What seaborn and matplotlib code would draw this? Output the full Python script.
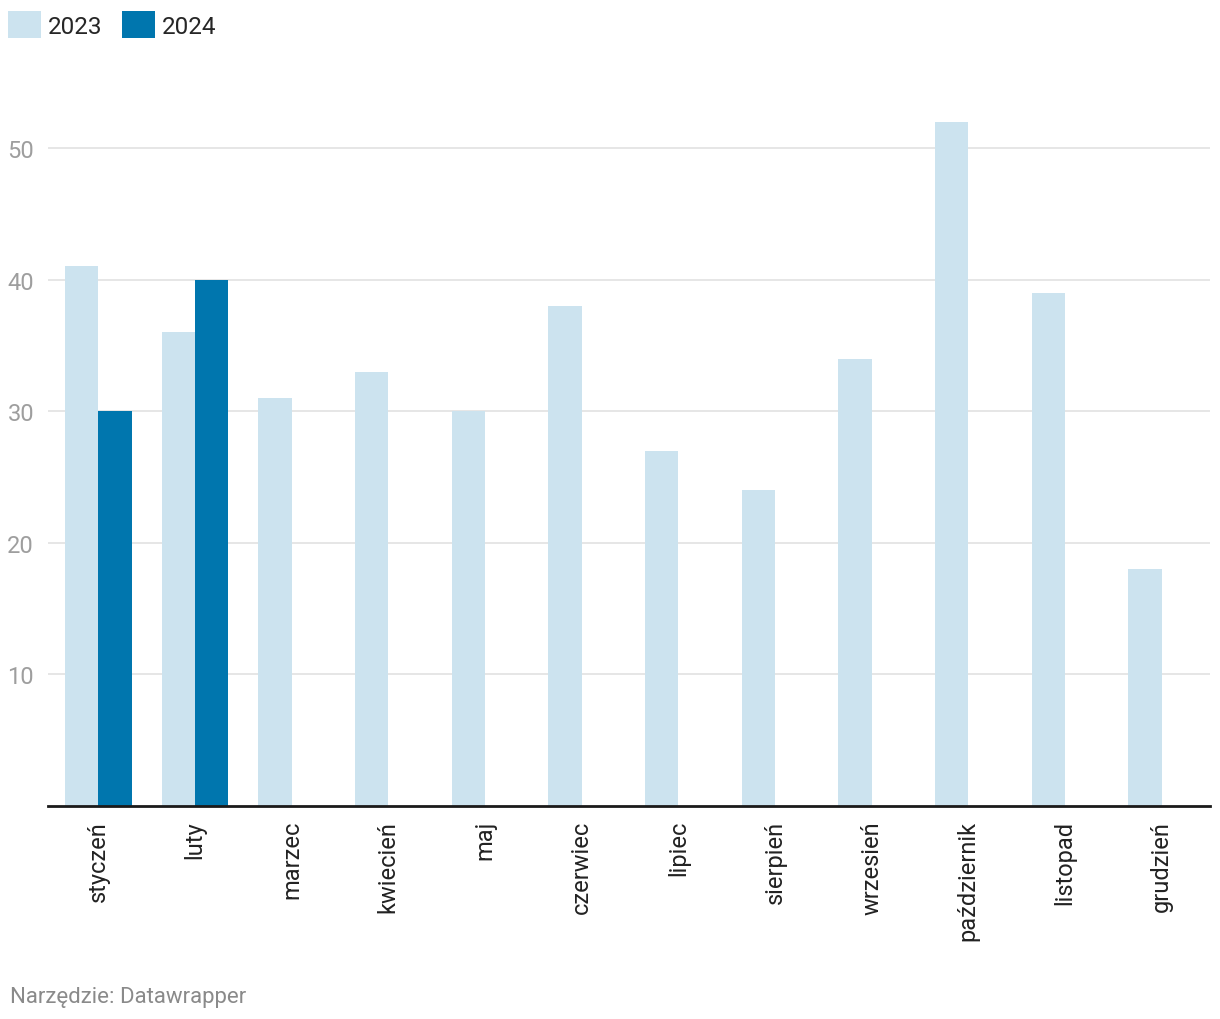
import pandas as pd
import numpy as np
import matplotlib
matplotlib.use('Agg')
import matplotlib.pyplot as plt
import seaborn as sns

# Data
months = ['styczeń', 'luty', 'marzec', 'kwiecień', 'maj', 'czerwiec',
          'lipiec', 'sierpień', 'wrzesień', 'październik', 'listopad', 'grudzień']
values_2023 = [41, 36, 31, 33, 30, 38, 27, 24, 34, 52, 39, 18]
values_2024 = [30, 40]
years = ['2023', '2024']
colors = ['#cce3ef', '#0076ae']
yticks = [10, 20, 30, 40, 50]

rows = [{'month': m, 'year': '2023', 'value': v} for m, v in zip(months, values_2023)]
rows += [{'month': m, 'year': '2024', 'value': v} for m, v in zip(months, values_2024)]
df = pd.DataFrame(rows)

sns.set_theme(style='white')
plt.rcParams['font.family'] = ['Roboto', 'DejaVu Sans']

fig = plt.figure(figsize=(12.2, 10.2), dpi=100)
ax = fig.add_axes([0.0393, 0.2088, 0.9525, 0.7096])

sns.barplot(data=df, x='month', y='value', hue='year', order=months, hue_order=years,
            palette=colors, width=0.69, gap=0, saturation=1, errorbar=None,
            linewidth=0, edgecolor='none', ax=ax)

ax.set_xlim(-0.52, 11.5)
ax.set_ylim(0, 55)
ax.set_yticks(yticks)
ax.set_yticklabels([str(t) for t in yticks], fontsize=17, color='#9e9e9e')
ax.yaxis.grid(True, color='#e2e2e2', linewidth=1.2)
ax.set_axisbelow(True)
ax.tick_params(axis='y', length=0, pad=10)
ax.tick_params(axis='x', length=0, pad=10)
for lbl in ax.get_xticklabels():
    lbl.set_rotation(90)
    lbl.set_fontsize(17)
    lbl.set_color('#222222')
    lbl.set_va('top')
    lbl.set_ha('center')
ax.set_xlabel('')
ax.set_ylabel('')
for s in ['top', 'right', 'left']:
    ax.spines[s].set_visible(False)
ax.spines['bottom'].set_color('#1a1a1a')
ax.spines['bottom'].set_linewidth(2)

sns.move_legend(ax, 'upper left', bbox_to_anchor=(8 / 1220, 1 - 12 / 1020),
                bbox_transform=fig.transFigure,
                ncol=2, frameon=False, title=None, fontsize=17.5,
                handlelength=1.35, handleheight=1.35, handletextpad=0.3,
                columnspacing=0.8, borderaxespad=0, borderpad=0)

fig.text(0.008, 0.012, 'Narzędzie: Datawrapper', fontsize=16, color='#8a8a8a',
         ha='left', va='bottom')

fig.savefig('out.png', dpi=100, facecolor='white')
